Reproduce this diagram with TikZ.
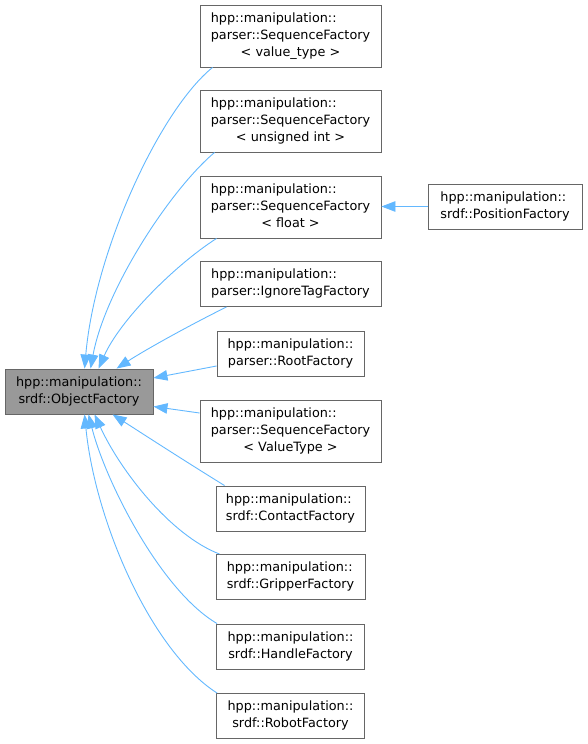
\documentclass[tikz,border=0pt]{standalone}
\usepackage{fontspec}
\setmainfont{DejaVu Sans}
\usetikzlibrary{arrows.meta}
\definecolor{edgecol}{HTML}{63B8FF}
\definecolor{boxline}{HTML}{666666}
\definecolor{boxfill}{HTML}{999999}
\newcommand{\dxThree}[3]{\begin{tabular}{@{}l@{}}#1\\#2\\\multicolumn{1}{@{}c@{}}{#3}\end{tabular}}
\newcommand{\dxTwo}[2]{\begin{tabular}{@{}l@{}}#1\\\multicolumn{1}{@{}c@{}}{#2}\end{tabular}}
\begin{document}
\begin{tikzpicture}[x=1pt,y=-1pt,
  cls/.style={draw=boxline, line width=0.9pt, fill=white, inner sep=0pt, text=black,
    font=\fontsize{12.8}{16.7}\selectfont},
  tall/.style={minimum height=62pt},
  short/.style={minimum height=45pt},
  edge/.style={draw=edgecol, line width=0.9pt, -{Triangle[length=14pt,width=10.5pt]}}]
\useasboundingbox (0,0) rectangle (587,744);

\node[cls, fill=boxfill, short, minimum width=148pt] (obj) at (79,391.5)
  {\dxTwo{hpp::manipulation::}{srdf::ObjectFactory}};

\node[cls, tall, minimum width=181pt] (vt) at (290.5,36)
  {\dxThree{hpp::manipulation::}{parser::SequenceFactory}{<\ value\_type\ >}};
\node[cls, tall, minimum width=181pt] (ui) at (290.5,121)
  {\dxThree{hpp::manipulation::}{parser::SequenceFactory}{<\ unsigned int\ >}};
\node[cls, tall, minimum width=181pt] (fl) at (290.5,207)
  {\dxThree{hpp::manipulation::}{parser::SequenceFactory}{<\ float\ >}};
\node[cls, short, minimum width=154pt] (pos) at (505,206.5)
  {\dxTwo{hpp::manipulation::}{srdf::PositionFactory}};
\node[cls, short, minimum width=181pt] (ign) at (290.5,284)
  {\dxTwo{hpp::manipulation::}{parser::IgnoreTagFactory}};
\node[cls, short, minimum width=147pt] (root) at (290.5,353.5)
  {\dxTwo{hpp::manipulation::}{parser::RootFactory}};
\node[cls, tall, minimum width=181pt] (svt) at (290.5,431)
  {\dxThree{hpp::manipulation::}{parser::SequenceFactory}{<\ ValueType\ >}};
\node[cls, short, minimum width=149pt] (contact) at (290.5,508.5)
  {\dxTwo{hpp::manipulation::}{srdf::ContactFactory}};
\node[cls, short, minimum width=149pt] (gripper) at (290.5,577)
  {\dxTwo{hpp::manipulation::}{srdf::GripperFactory}};
\node[cls, short, minimum width=148pt] (handle) at (290.5,646.5)
  {\dxTwo{hpp::manipulation::}{srdf::HandleFactory}};
\node[cls, short, minimum width=148pt] (robot) at (290.5,716)
  {\dxTwo{hpp::manipulation::}{srdf::RobotFactory}};

% edges into ObjectFactory (top)
\draw[edge] ([xshift=13pt]vt.south west) .. controls (160,110) and (95,250) .. ([xshift=80pt]obj.north west);
\draw[edge] ([xshift=15pt]ui.south west) .. controls (170,190) and (105,290) .. ([xshift=86pt]obj.north west);
\draw[edge] ([xshift=17pt]fl.south west) .. controls (175,265) and (120,320) .. ([xshift=94pt]obj.north west);
\draw[edge] ([xshift=27pt]ign.south west) .. controls (190,325) and (145,350) .. ([xshift=112pt]obj.north west);
% side edges
\draw[edge] ([yshift=-12.5pt]root.west) -- ([yshift=13.5pt]obj.east);
\draw[edge] ([yshift=18pt]svt.west) -- ([yshift=-15pt]obj.east);
% edges into ObjectFactory (bottom)
\draw[edge] ([xshift=9pt]contact.north west) .. controls (180,458) and (140,432) .. ([xshift=108pt]obj.south west);
\draw[edge] ([xshift=4pt]gripper.north west) .. controls (170,535) and (120,470) .. ([xshift=90pt]obj.south west);
\draw[edge] ([xshift=1pt]handle.north west) .. controls (160,590) and (105,480) .. ([xshift=84pt]obj.south west);
\draw[edge] ([xshift=1pt]robot.north west) .. controls (150,650) and (95,520) .. ([xshift=80pt]obj.south west);
% PositionFactory -> float
\draw[edge] (pos.west) -- (fl.east |- pos.west);
\end{tikzpicture}
\end{document}
